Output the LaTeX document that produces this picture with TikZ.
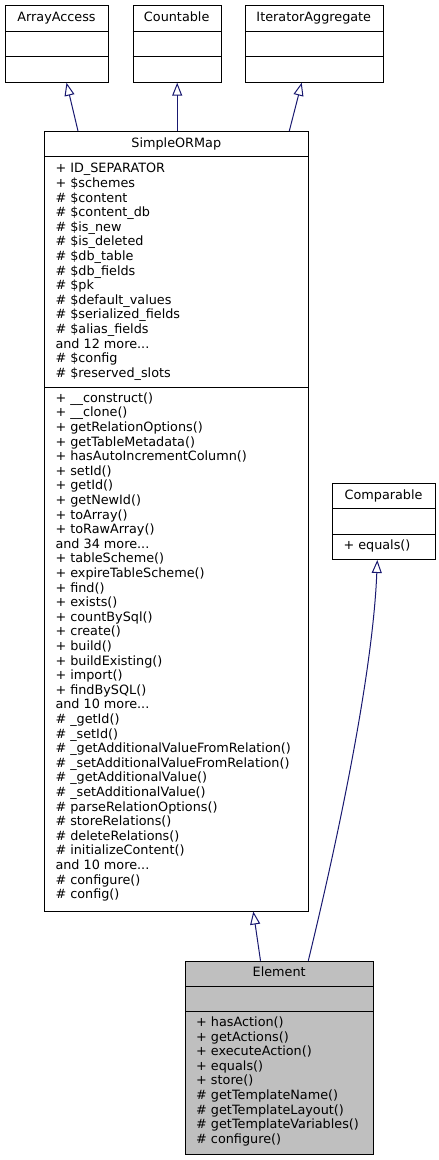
\documentclass[tikz,border=0pt]{standalone}
\usepackage{fontspec}
\setmainfont{DejaVu Sans}
\usetikzlibrary{arrows.meta}

\definecolor{edgeblue}{HTML}{191970}
\definecolor{boxgray}{HTML}{BFBFBF}
\newcommand{\andmore}[1]{and #1 more...}

\tikzset{
    classbox/.style={draw=black, line width=1pt, inner sep=0pt, anchor=north west},
    classname/.style={inner sep=0pt, anchor=base, font=\fontsize{12.8}{14.6}\selectfont},
    member/.style={inner sep=0pt, anchor=base west, font=\fontsize{12.8}{14.6}\selectfont},
    divider/.style={draw=black, line width=1pt},
    inherit/.style={draw=edgeblue, line width=1pt,
        -{Triangle[open, length=13pt, width=10pt]}}
}

\begin{document}
\begin{tikzpicture}[x=1pt, y=-1pt]
    \useasboundingbox (0,0) rectangle (439,1160);

    % interfaces
    \node[classbox, minimum width=103pt, minimum height=76.7pt] (arrayaccess) at (5,5) {};
    \node[classname] (arrayaccessname) at (56.5,21) {ArrayAccess};
    \draw[divider] (5,31.3) -- (108,31.3);
    \draw[divider] (5,56.7) -- (108,56.7);

    \node[classbox, minimum width=88pt, minimum height=76.7pt] (countable) at (132.7,5) {};
    \node[classname] (countablename) at (176.7,21) {Countable};
    \draw[divider] (132.7,31.3) -- (220.7,31.3);
    \draw[divider] (132.7,56.7) -- (220.7,56.7);

    \node[classbox, minimum width=137.7pt, minimum height=76.7pt] (iteratoraggregate) at (245,5) {};
    \node[classname] (iteratoraggregatename) at (313.8,21) {IteratorAggregate};
    \draw[divider] (245,31.3) -- (382.7,31.3);
    \draw[divider] (245,56.7) -- (382.7,56.7);

    % SimpleORMap
    \node[classbox, minimum width=264pt, minimum height=779.5pt] (simpleormap) at (44.3,131) {};
    \node[classname] (simpleormapname) at (176.3,147) {SimpleORMap};
    \draw[divider] (44.3,156) -- (308.3,156);
    \draw[divider] (44.3,387.3) -- (308.3,387.3);
    \foreach \t [count=\i] in {
        + ID\_SEPARATOR, + \$schemes, \# \$content, \# \$content\_db,
        \# \$is\_new, \# \$is\_deleted, \# \$db\_table, \# \$db\_fields,
        \# \$pk, \# \$default\_values, \# \$serialized\_fields,
        \# \$alias\_fields, \andmore{12}, \# \$config, \# \$reserved\_slots}
        \node[member] (sattr\i) at (55.3,{172.8+14.6*(\i-1)}) {\t};
    \foreach \t [count=\i] in {
        + \_\_construct(), + \_\_clone(), + getRelationOptions(),
        + getTableMetadata(), + hasAutoIncrementColumn(), + setId(),
        + getId(), + getNewId(), + toArray(), + toRawArray(), \andmore{34},
        + tableScheme(), + expireTableScheme(), + find(), + exists(),
        + countBySql(), + create(), + build(), + buildExisting(), + import(),
        + findBySQL(), \andmore{10}, \# \_getId(), \# \_setId(),
        \# \_getAdditionalValueFromRelation(),
        \# \_setAdditionalValueFromRelation(), \# \_getAdditionalValue(),
        \# \_setAdditionalValue(), \# parseRelationOptions(),
        \# storeRelations(), \# deleteRelations(), \# initializeContent(),
        \andmore{10}, \# configure(), \# config()}
        \node[member] (smeth\i) at (55.3,{402.2+14.6*(\i-1)}) {\t};

    % Comparable
    \node[classbox, minimum width=102.7pt, minimum height=75.7pt] (comparable) at (332.3,483.3) {};
    \node[classname] (comparablename) at (383.6,499.3) {Comparable};
    \draw[divider] (332.3,508.3) -- (435,508.3);
    \draw[divider] (332.3,534) -- (435,534);
    \node[member] (cmeth1) at (343.3,549) {+ equals()};

    % Element
    \node[classbox, fill=boxgray, minimum width=188.3pt, minimum height=193.3pt] (element) at (185,960.7) {};
    \node[classname] (elementname) at (279.2,976.7) {Element};
    \draw[divider] (185,986.7) -- (373.3,986.7);
    \draw[divider] (185,1011.3) -- (373.3,1011.3);
    \foreach \t [count=\i] in {
        + hasAction(), + getActions(), + executeAction(), + equals(),
        + store(), \# getTemplateName(), \# getTemplateLayout(),
        \# getTemplateVariables(), \# configure()}
        \node[member] (emeth\i) at (196,{1026.4+14.6*(\i-1)}) {\t};

    % inheritance
    \draw[inherit] ([xshift=33.7pt]simpleormap.north west) -- ([xshift=61.5pt]arrayaccess.south west);
    \draw[inherit] (simpleormap.north -| countable.south) -- (countable.south);
    \draw[inherit] ([xshift=245pt]simpleormap.north west) -- ([xshift=56.7pt]iteratoraggregate.south west);
    \draw[inherit] ([xshift=75.5pt]element.north west) -- ([xshift=209pt]simpleormap.south west);
    \draw[inherit] ([xshift=123.3pt]element.north west)
        .. controls (340,830) and (373,670) .. ([xshift=45pt]comparable.south west);
\end{tikzpicture}
\end{document}
